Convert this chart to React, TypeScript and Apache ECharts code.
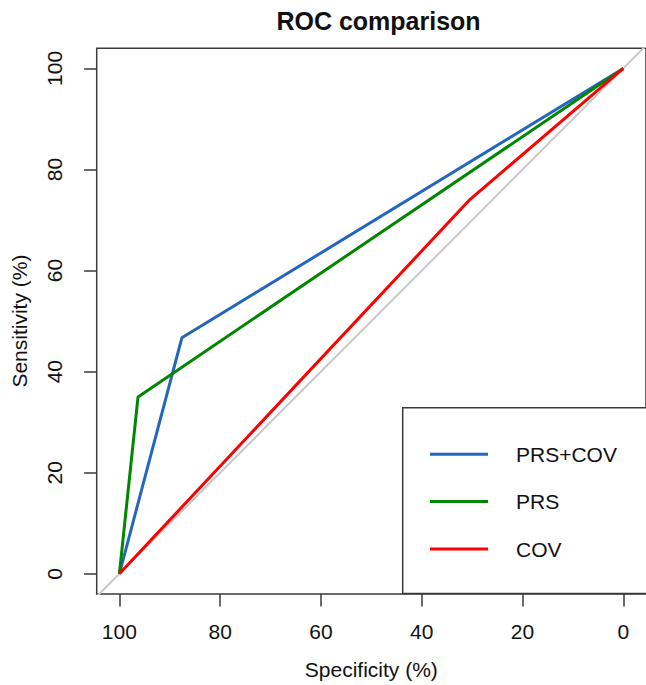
import React, { useEffect, useRef } from "react";
import * as echarts from "echarts";

const seriesNames = ["PRS+COV", "PRS", "COV"];
const seriesColors = ["#2566bd", "#008600", "#ff0000"];
const specPrsCov = [100, 87.6, 0];
const sensPrsCov = [0, 46.7, 100];
const specPrs = [100, 96.3, 0];
const sensPrs = [0, 35.0, 100];
const specCov = [100, 30.4, 0];
const sensCov = [0, 74.1, 100];
const xTicks = [0, 20, 40, 60, 80, 100];
const yTicks = [0, 20, 40, 60, 80, 100];
const refSpec = [110, -10];
const refSens = [-10, 110];

const pairs = (xs: number[], ys: number[]) => xs.map((x, i) => [x, ys[i]]);

export default function App() {
  const ref = useRef<HTMLDivElement>(null);
  useEffect(() => {
    document.body.style.margin = "0";
    const chart = echarts.init(ref.current!, null, { renderer: "svg" });
    const font = "Liberation Sans, Arial, Helvetica, sans-serif";
    const curves = [
      pairs(specPrsCov, sensPrsCov),
      pairs(specPrs, sensPrs),
      pairs(specCov, sensCov),
    ];
    chart.setOption({
      animation: false,
      backgroundColor: "#ffffff",
      title: {
        text: "ROC comparison",
        left: 373.5,
        top: 3,
        textAlign: "center",
        textStyle: { fontFamily: font, fontSize: 25, fontWeight: "bold", color: "#111" },
      },
      grid: {
        show: true,
        left: 96.7,
        top: 48.2,
        width: 553.6,
        height: 548.5,
        borderColor: "#3a3a3a",
        borderWidth: 1.5,
        backgroundColor: "transparent",
      },
      xAxis: {
        type: "value",
        inverse: true,
        min: -4.5,
        max: 104.5,
        name: "Specificity (%)",
        nameLocation: "middle",
        nameGap: 65,
        nameTextStyle: { fontFamily: font, fontSize: 21, color: "#111" },
        axisLine: { show: false, onZero: false },
        splitLine: { show: false },
        axisTick: {
          show: true,
          length: 12.6,
          customValues: xTicks,
          lineStyle: { color: "#3a3a3a", width: 1.5 },
        },
        axisLabel: {
          customValues: xTicks,
          margin: 27,
          fontFamily: font,
          fontSize: 21,
          color: "#111",
        },
      },
      yAxis: {
        type: "value",
        min: -4,
        max: 104,
        name: "Sensitivity (%)",
        nameLocation: "middle",
        nameGap: 67,
        nameTextStyle: { fontFamily: font, fontSize: 21, color: "#111" },
        axisLine: { show: false, onZero: false },
        splitLine: { show: false },
        axisTick: {
          show: true,
          length: 12.6,
          customValues: yTicks,
          lineStyle: { color: "#3a3a3a", width: 1.5 },
        },
        axisLabel: {
          customValues: yTicks,
          rotate: 90,
          margin: 32,
          fontFamily: font,
          fontSize: 21,
          color: "#111",
        },
      },
      legend: {
        data: seriesNames,
        orient: "vertical",
        left: 402.7,
        top: 407.7,
        padding: [36, 40, 34, 27.3],
        itemGap: 26.4,
        itemWidth: 58,
        itemHeight: 3,
        icon: "rect",
        borderColor: "#3a3a3a",
        borderWidth: 1.5,
        backgroundColor: "#ffffff",
        textStyle: { fontFamily: font, fontSize: 21, color: "#111", padding: [0, 0, 0, 23] },
      },
      series: [
        {
          type: "line",
          name: "reference",
          data: pairs(refSpec, refSens),
          symbol: "none",
          clip: true,
          silent: true,
          lineStyle: { color: "#c8c8c8", width: 2 },
          z: 1,
        },
        ...seriesNames.map((name, i) => ({
          type: "line",
          name,
          data: curves[i],
          symbol: "none",
          clip: true,
          color: seriesColors[i],
          lineStyle: { color: seriesColors[i], width: 3 },
          itemStyle: { color: seriesColors[i] },
          z: 2 + i,
        })),
      ],
    });
    return () => chart.dispose();
  }, []);
  return <div ref={ref} style={{ width: 646, height: 685 }} />;
}
